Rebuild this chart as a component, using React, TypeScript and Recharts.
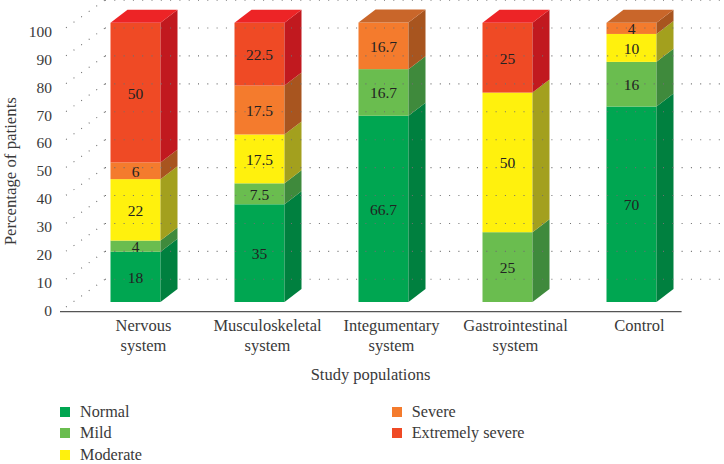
import React from 'react';
import { BarChart, Bar, XAxis, YAxis, ReferenceLine, LabelList, Legend } from 'recharts';

const categories = ['Nervous system', 'Musculoskeletal system', 'Integumentary system', 'Gastrointestinal system', 'Control'];
const normal = [18, 35, 66.7, null, 70];
const mild = [4, 7.5, 16.7, 25, 16];
const moderate = [22, 17.5, null, 50, 10];
const severe = [6, 17.5, 16.7, null, 4];
const extreme = [50, 22.5, null, 25, null];
const yTicks = [0, 10, 20, 30, 40, 50, 60, 70, 80, 90, 100];

const seriesKeys = ['normal', 'mild', 'moderate', 'severe', 'extreme'];
const seriesNames = ['Normal', 'Mild', 'Moderate', 'Severe', 'Extremely severe'];
const frontColors = ['#00a651', '#6abd4f', '#fff10d', '#f47b2d', '#ef4a25'];
const sideColors = ['#00803f', '#3f8a3c', '#a3a01e', '#a8551f', '#c1191f'];
const topColors = ['#00a651', '#6abd4f', '#fff10d', '#c9662a', '#ed2426'];
const seriesValues = [normal, mild, moderate, severe, extreme];

const data = categories.map((name, i) => {
  const row: Record<string, any> = { name };
  seriesKeys.forEach((key, s) => {
    row[key] = seriesValues[s][i];
  });
  return row;
});

const FONT = '"Liberation Serif", serif';
const TEXT = '#3a3a3a';
const DEPTH_X = 17;
const DEPTH_Y = 13;

const box3d = (s: number) => (props: any) => {
  const { x, y, width, height, payload } = props;
  if (!height) return <g />;
  const isTop = seriesKeys.slice(s + 1).every((k) => payload[k] == null);
  const r = x + width;
  return (
    <g>
      <rect x={x} y={y} width={width} height={height} fill={frontColors[s]} />
      <polygon
        points={`${r},${y} ${r + DEPTH_X},${y - DEPTH_Y} ${r + DEPTH_X},${y + height - DEPTH_Y} ${r},${y + height}`}
        fill={sideColors[s]}
      />
      {isTop && (
        <polygon
          points={`${x},${y} ${x + DEPTH_X},${y - DEPTH_Y} ${r + DEPTH_X},${y - DEPTH_Y} ${r},${y}`}
          fill={topColors[s]}
        />
      )}
    </g>
  );
};

// dotted back wall line + side wall diagonal for one gridline value
const WallLine = (props: any) => {
  const y = props.y1;
  const dots = { stroke: '#6f6f6f', strokeWidth: 1.1, strokeDasharray: '1 8.3', fill: 'none' };
  return (
    <g>
      <line x1={105} y1={y - 22.7} x2={724} y2={y - 22.7} {...dots} />
      <line x1={66} y1={y + 5} x2={105} y2={y - 22.7} {...dots} />
    </g>
  );
};

const AxisLine = (props: any) => (
  <line x1={60} y1={props.y1 + 9.6} x2={681.6} y2={props.y1 + 9.6} stroke="#555" strokeWidth={1.2} />
);

const XTick = ({ x, y, payload }: any) => {
  const lines = String(payload.value).split(' ');
  return (
    <text x={x + 8} y={y} textAnchor="middle" fontFamily={FONT} fontSize={16.5} fill={TEXT}>
      {lines.map((line, i) => (
        <tspan key={i} x={x + 8} y={y + 21 + i * 20}>
          {line}
        </tspan>
      ))}
    </text>
  );
};

const YTick = ({ y, payload }: any) => (
  <text x={52} y={y + 14} textAnchor="end" fontFamily={FONT} fontSize={15.5} fill={TEXT}>
    {payload.value}
  </text>
);

const SegmentLabel = ({ x, y, width, height, value }: any) => {
  if (value == null) return null;
  return (
    <text x={x + width / 2} y={y + height / 2 + 6} textAnchor="middle" fontFamily={FONT} fontSize={15.5} fill="#222">
      {value}
    </text>
  );
};

const LegendBox = () => {
  const items = seriesNames.map((name, i) => ({ name, color: frontColors[i] }));
  return (
    <div style={{ position: 'relative', height: 56, fontFamily: FONT, fontSize: 16.2, color: TEXT }}>
      {items.map((item, i) => (
        <div
          key={item.name}
          style={{
            position: 'absolute',
            left: i < 3 ? 60 : 391.7,
            top: (i < 3 ? i : i - 3) * 21.4,
            height: 14,
            lineHeight: '14px',
            whiteSpace: 'nowrap',
          }}
        >
          <span
            style={{ position: 'absolute', left: 0, top: 2, width: 10, height: 10, background: item.color }}
          />
          <span style={{ position: 'absolute', left: 20, top: 0 }}>{item.name}</span>
        </div>
      ))}
    </div>
  );
};

export default function App() {
  return (
    <div style={{ position: 'absolute', left: 0, top: 0 }}>
      <BarChart
        width={724}
        height={464}
        data={data}
        margin={{ top: 22.5, right: 30.5, bottom: 0, left: 13.5 }}
      >
        <XAxis
          dataKey="name"
          interval={0}
          height={162}
          axisLine={false}
          tickLine={false}
          tick={<XTick />}
          label={{
            value: 'Study populations',
            position: 'insideTop',
            dx: -13,
            offset: 66,
            fontFamily: FONT,
            fontSize: 16.5,
            fill: TEXT,
          }}
        />
        <YAxis
          width={60}
          domain={[0, 100]}
          ticks={yTicks}
          interval={0}
          axisLine={false}
          tickLine={false}
          tick={<YTick />}
          label={{
            value: 'Percentage of patients',
            angle: -90,
            position: 'insideLeft',
            dx: -8,
            dy: 9,
            fontFamily: FONT,
            fontSize: 16.8,
            fill: TEXT,
            style: { textAnchor: 'middle' },
          }}
        />
        {yTicks.map((v) => (
          <ReferenceLine key={v} y={v} ifOverflow="visible" shape={<WallLine />} />
        ))}
        <ReferenceLine y={0} ifOverflow="visible" shape={<AxisLine />} />
        <Legend
          verticalAlign="middle"
          layout="horizontal"
          content={<LegendBox />}
          wrapperStyle={{ left: 0, top: 405, width: 724 }}
        />
        {seriesKeys.map((key, s) => (
          <Bar
            key={key}
            dataKey={key}
            name={seriesNames[s]}
            stackId="a"
            barSize={50}
            fill={frontColors[s]}
            shape={box3d(s)}
            isAnimationActive={false}
          >
            <LabelList dataKey={key} content={<SegmentLabel />} />
          </Bar>
        ))}
      </BarChart>
    </div>
  );
}
